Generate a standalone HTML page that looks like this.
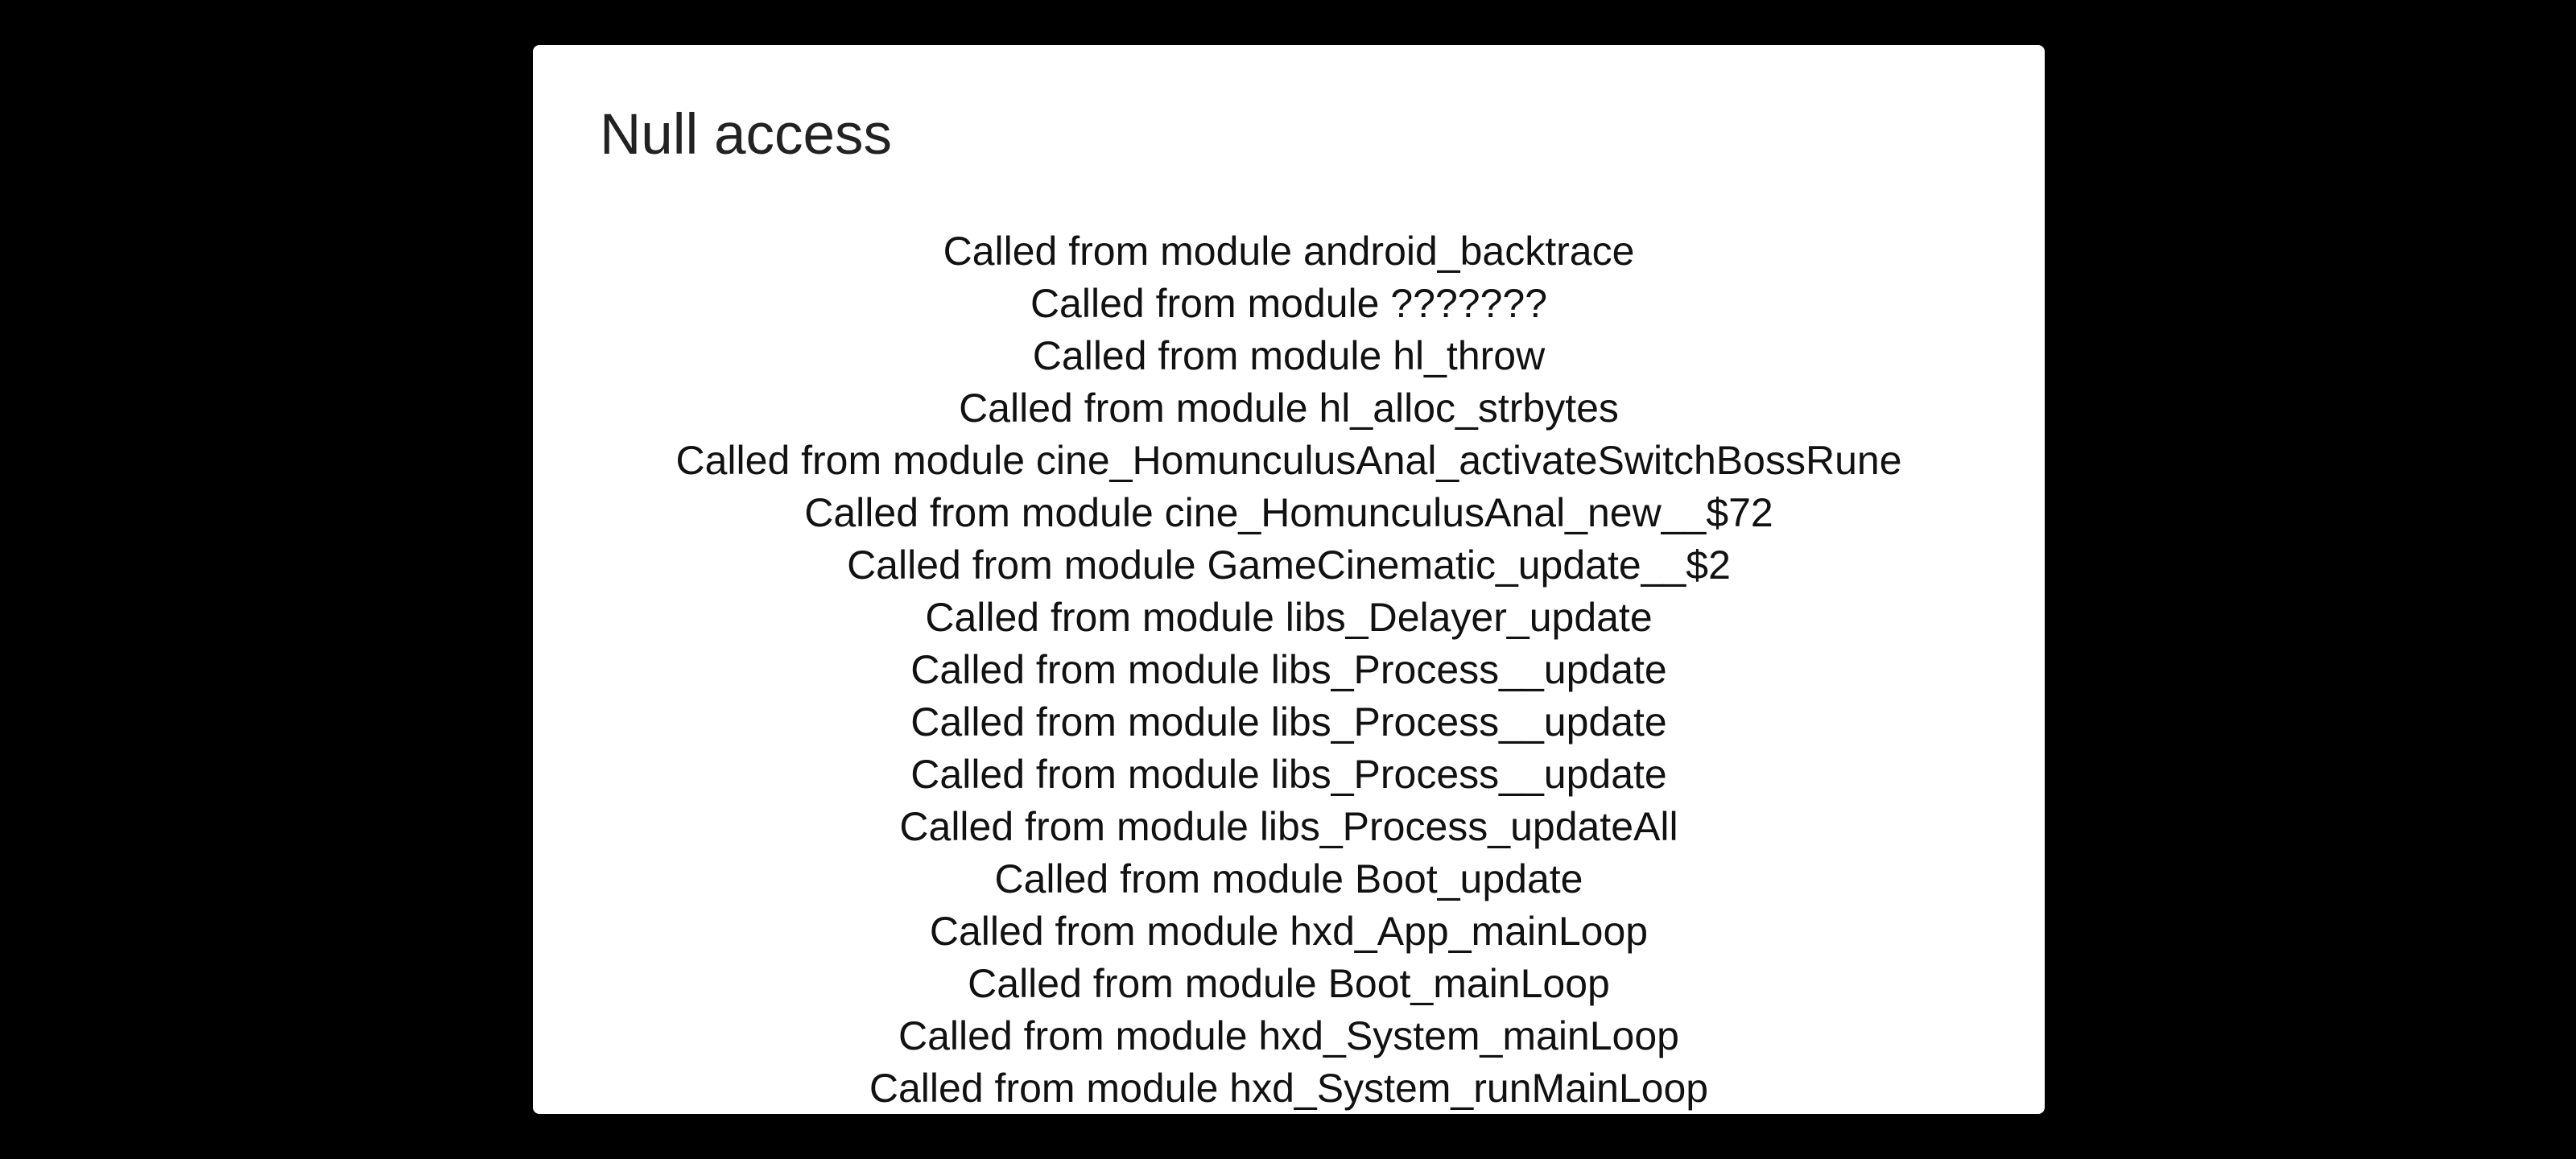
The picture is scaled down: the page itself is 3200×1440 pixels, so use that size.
<!DOCTYPE html>
<html><head><style>
html,body{margin:0;padding:0;background:#000;width:3200px;height:1440px;overflow:hidden}
.box{position:absolute;left:662px;top:56px;width:1878px;height:1328px;background:#fff;border-radius:8px;overflow:hidden}
.t{position:absolute;left:83px;top:76px;font:71px "Liberation Sans",sans-serif;color:#222;line-height:1}
.lines{position:absolute;left:0;width:100%;top:224px;text-align:center;font:50px "Liberation Sans",sans-serif;color:#111;line-height:65px}
</style></head><body>
<div class="box">
<div class="t">Null access</div>
<div class="lines">
Called from module android_backtrace<br>
Called from module ???????<br>
Called from module hl_throw<br>
Called from module hl_alloc_strbytes<br>
Called from module cine_HomunculusAnal_activateSwitchBossRune<br>
Called from module cine_HomunculusAnal_new__$72<br>
Called from module GameCinematic_update__$2<br>
Called from module libs_Delayer_update<br>
Called from module libs_Process__update<br>
Called from module libs_Process__update<br>
Called from module libs_Process__update<br>
Called from module libs_Process_updateAll<br>
Called from module Boot_update<br>
Called from module hxd_App_mainLoop<br>
Called from module Boot_mainLoop<br>
Called from module hxd_System_mainLoop<br>
Called from module hxd_System_runMainLoop
</div>
</div>
</body></html>
